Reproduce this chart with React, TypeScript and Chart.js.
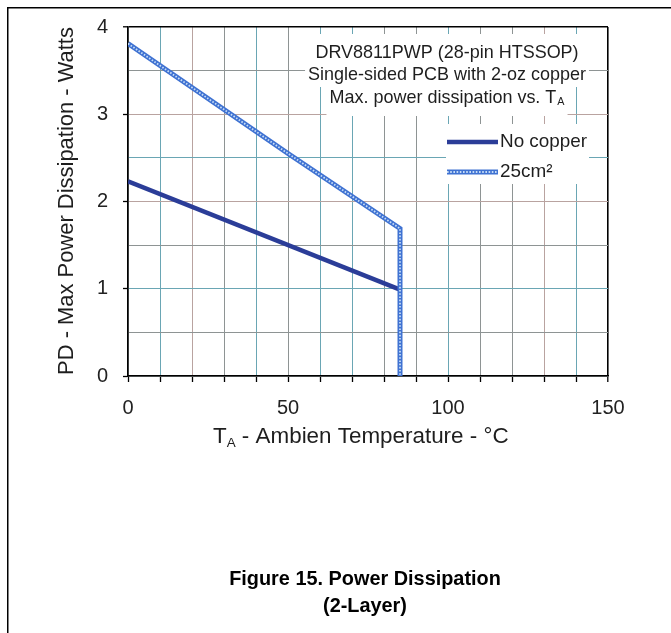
import React, { useEffect, useRef } from "react";
import { Chart, registerables } from "chart.js";

Chart.register(...registerables);

// ---- data ----
const NO_COPPER_TEMP = [0, 85];
const NO_COPPER_PD = [2.23, 0.99];
const CU25_TEMP = [0, 50, 85, 85];
const CU25_PD = [3.81, 2.55, 1.69, 0];
const X_LABELS = [0, 50, 100, 150];
const Y_LABELS = [0, 1, 2, 3, 4];
const SERIES = ["No copper", "25cm²"];
const INFO = ["DRV8811PWP (28-pin HTSSOP)", "Single-sided PCB with 2-oz copper", "Max. power dissipation vs. T"];
const INFO_SUB = "A";
const X_TITLE = ["T", "A", " - Ambien Temperature - °C"];
const Y_TITLE = "PD - Max Power Dissipation - Watts";
const CAPTION = ["Figure 15. Power Dissipation", "(2-Layer)"];

const FAMILY = '"Liberation Sans", Arial, Helvetica, sans-serif';
const NARROW = '"Liberation Sans Narrow", "Arial Narrow", "Liberation Sans", sans-serif';

const TEAL = "#6aa6b4";
const GREY = "#8e9494";
const ROSE = "#b9a3a0";
const XGRID: Record<number, string> = {
  10: TEAL, 20: ROSE, 30: GREY, 40: TEAL, 50: GREY, 60: TEAL, 70: TEAL,
  80: GREY, 90: GREY, 100: TEAL, 110: GREY, 120: GREY, 130: ROSE, 140: TEAL,
};
const YGRID: Record<string, string> = {
  "0.5": GREY, "1": TEAL, "1.5": GREY, "2": ROSE, "2.5": TEAL, "3": ROSE, "3.5": GREY,
};

const NOCU_COLOR = "#2b3d98";
const CU25_OUTER = "#3f72d2";
const CU25_INNER = "#c6dcf6";

function fit(ctx: CanvasRenderingContext2D, text: string, target: number, weight: string, fam: string) {
  ctx.font = `${weight} 100px ${fam}`;
  return (100 * target) / ctx.measureText(text).width;
}

const decor = {
  id: "decor",
  afterDraw(chart: any) {
    const ctx: CanvasRenderingContext2D = chart.ctx;
    ctx.save();
    ctx.textAlign = "left";
    ctx.textBaseline = "middle";

    // info text block
    const s = fit(ctx, INFO[1], 278, "normal", FAMILY);
    const cx = 447;
    const ys = [53, 75, 98];
    const bands = [[34, 64], [64, 87], [87, 116]];
    INFO.forEach((t, i) => {
      ctx.font = `${s}px ${FAMILY}`;
      const w = ctx.measureText(t).width;
      let subW = 0;
      if (i === 2) {
        ctx.font = `${s * 0.6}px ${FAMILY}`;
        subW = ctx.measureText(INFO_SUB).width + 1;
      }
      const total = w + subW;
      const x0 = cx - total / 2;
      ctx.fillStyle = "#fff";
      ctx.fillRect(x0 - 3, bands[i][0], total + 6, bands[i][1] - bands[i][0]);
      ctx.fillStyle = "#1e1e1e";
      ctx.font = `${s}px ${FAMILY}`;
      ctx.fillText(t, x0, ys[i]);
      if (i === 2) {
        ctx.font = `${s * 0.6}px ${FAMILY}`;
        ctx.fillText(INFO_SUB, x0 + w + 1, ys[i] + s * 0.25);
      }
    });

    // legend
    ctx.fillStyle = "#fff";
    ctx.fillRect(446, 124, 143, 60);
    const ly = [142, 172];
    ctx.lineCap = "butt";
    ctx.strokeStyle = NOCU_COLOR;
    ctx.lineWidth = 4.5;
    ctx.beginPath();
    ctx.moveTo(447, ly[0]);
    ctx.lineTo(498, ly[0]);
    ctx.stroke();
    ctx.strokeStyle = CU25_OUTER;
    ctx.lineWidth = 5;
    ctx.beginPath();
    ctx.moveTo(447, ly[1]);
    ctx.lineTo(498, ly[1]);
    ctx.stroke();
    ctx.strokeStyle = CU25_INNER;
    ctx.lineWidth = 1.8;
    ctx.setLineDash([1.6, 1.6]);
    ctx.beginPath();
    ctx.moveTo(447, ly[1]);
    ctx.lineTo(498, ly[1]);
    ctx.stroke();
    ctx.setLineDash([]);
    ctx.fillStyle = "#1e1e1e";
    ctx.font = `${s * 1.05}px ${FAMILY}`;
    ctx.fillText(SERIES[0], 500, ly[0]);
    ctx.fillText(SERIES[1], 500, ly[1]);

    // y title
    const ys2 = fit(ctx, Y_TITLE, 348, "normal", FAMILY);
    ctx.save();
    ctx.translate(67, 201);
    ctx.rotate(-Math.PI / 2);
    ctx.textAlign = "center";
    ctx.font = `${ys2}px ${FAMILY}`;
    ctx.fillStyle = "#1e1e1e";
    ctx.fillText(Y_TITLE, 0, 0);
    ctx.restore();

    // x title with subscript
    ctx.font = `100px ${FAMILY}`;
    const wT = ctx.measureText(X_TITLE[0]).width;
    const wR = ctx.measureText(X_TITLE[2]).width;
    ctx.font = `60px ${FAMILY}`;
    const wA = ctx.measureText(X_TITLE[1]).width;
    const xs = (100 * 297) / (wT + wA + wR + 5);
    let px = 213;
    const py = 437;
    ctx.fillStyle = "#1e1e1e";
    ctx.font = `${xs}px ${FAMILY}`;
    ctx.fillText(X_TITLE[0], px, py);
    px += ctx.measureText(X_TITLE[0]).width;
    ctx.font = `${xs * 0.6}px ${FAMILY}`;
    ctx.fillText(X_TITLE[1], px, py + xs * 0.3);
    px += ctx.measureText(X_TITLE[1]).width;
    ctx.font = `${xs}px ${FAMILY}`;
    ctx.fillText(X_TITLE[2], px, py);

    // caption
    const cs = fit(ctx, CAPTION[0], 272, "bold", NARROW);
    ctx.textAlign = "center";
    ctx.fillStyle = "#000";
    ctx.font = `bold ${cs}px ${NARROW}`;
    ctx.fillText(CAPTION[0], 365, 580);
    ctx.fillText(CAPTION[1], 365, 607);

    // page frame
    ctx.fillStyle = "#000";
    ctx.fillRect(7, 7, 1.5, 626);
    ctx.fillRect(7, 7, 664, 1.5);
    ctx.restore();
  },
};

export default function App() {
  const ref = useRef<HTMLCanvasElement | null>(null);

  useEffect(() => {
    if (!ref.current) return;
    const noCu = NO_COPPER_TEMP.map((t, i) => ({ x: t, y: NO_COPPER_PD[i] }));
    const cu25 = CU25_TEMP.map((t, i) => ({ x: t, y: CU25_PD[i] }));
    const chart = new Chart(ref.current, {
      type: "scatter",
      data: {
        datasets: [
          {
            label: SERIES[0],
            data: noCu,
            showLine: true,
            borderColor: NOCU_COLOR,
            backgroundColor: NOCU_COLOR,
            borderWidth: 4.5,
            pointRadius: 0,
            order: 3,
          },
          {
            label: SERIES[1],
            data: cu25,
            showLine: true,
            borderColor: CU25_OUTER,
            backgroundColor: CU25_OUTER,
            borderWidth: 5,
            borderJoinStyle: "miter",
            pointRadius: 0,
            order: 2,
          },
          {
            label: SERIES[1] + " pattern",
            data: cu25,
            showLine: true,
            borderColor: CU25_INNER,
            backgroundColor: CU25_INNER,
            borderWidth: 1.8,
            borderDash: [1.6, 1.6],
            pointRadius: 0,
            order: 1,
          },
        ] as any,
      },
      options: {
        animation: false,
        responsive: false,
        layout: { padding: { left: 0, top: 25, right: 63, bottom: 197 } },
        plugins: { legend: { display: false }, tooltip: { enabled: false } },
        scales: {
          x: {
            type: "linear",
            min: 0,
            max: 150,
            afterFit: (s: any) => {
              s.height = 60;
            },
            ticks: {
              stepSize: 10,
              autoSkip: false,
              maxRotation: 0,
              padding: 14,
              color: "#222",
              font: { family: FAMILY, size: 20 },
              callback: (v: any) => (X_LABELS.includes(Number(v)) ? String(v) : ""),
            },
            grid: {
              color: (c: any) => (c.tick && c.tick.value === 150 ? "#000" : XGRID[c.tick ? c.tick.value : 0] || GREY),
              lineWidth: (c: any) => (c.tick && c.tick.value === 150 ? 1.6 : 1),
              tickColor: "#000",
              tickLength: 6,
              tickWidth: 1.3,
            },
            border: { color: "#000", width: 1.6 },
          },
          y: {
            type: "linear",
            min: 0,
            max: 4,
            afterFit: (s: any) => {
              s.width = 128;
            },
            ticks: {
              stepSize: 0.5,
              autoSkip: false,
              padding: 15,
              color: "#222",
              font: { family: FAMILY, size: 20 },
              callback: (v: any) => (Y_LABELS.includes(Number(v)) ? String(v) : ""),
            },
            grid: {
              color: (c: any) => (c.tick && c.tick.value === 4 ? "#000" : YGRID[String(c.tick ? c.tick.value : 0)] || GREY),
              lineWidth: (c: any) => (c.tick && c.tick.value === 4 ? 1.6 : 1),
              tickColor: (c: any) => (c.tick && Number.isInteger(c.tick.value) ? "#000" : "rgba(0,0,0,0)"),
              tickLength: 5,
              tickWidth: 1.3,
            },
            border: { color: "#000", width: 1.6 },
          },
        },
      } as any,
      plugins: [decor],
    });
    return () => chart.destroy();
  }, []);

  return (
    <div style={{ position: "absolute", left: 0, top: 0, width: 671, height: 633, background: "#fff" }}>
      <canvas ref={ref} width={671} height={633} style={{ width: 671, height: 633, display: "block" }} />
    </div>
  );
}
